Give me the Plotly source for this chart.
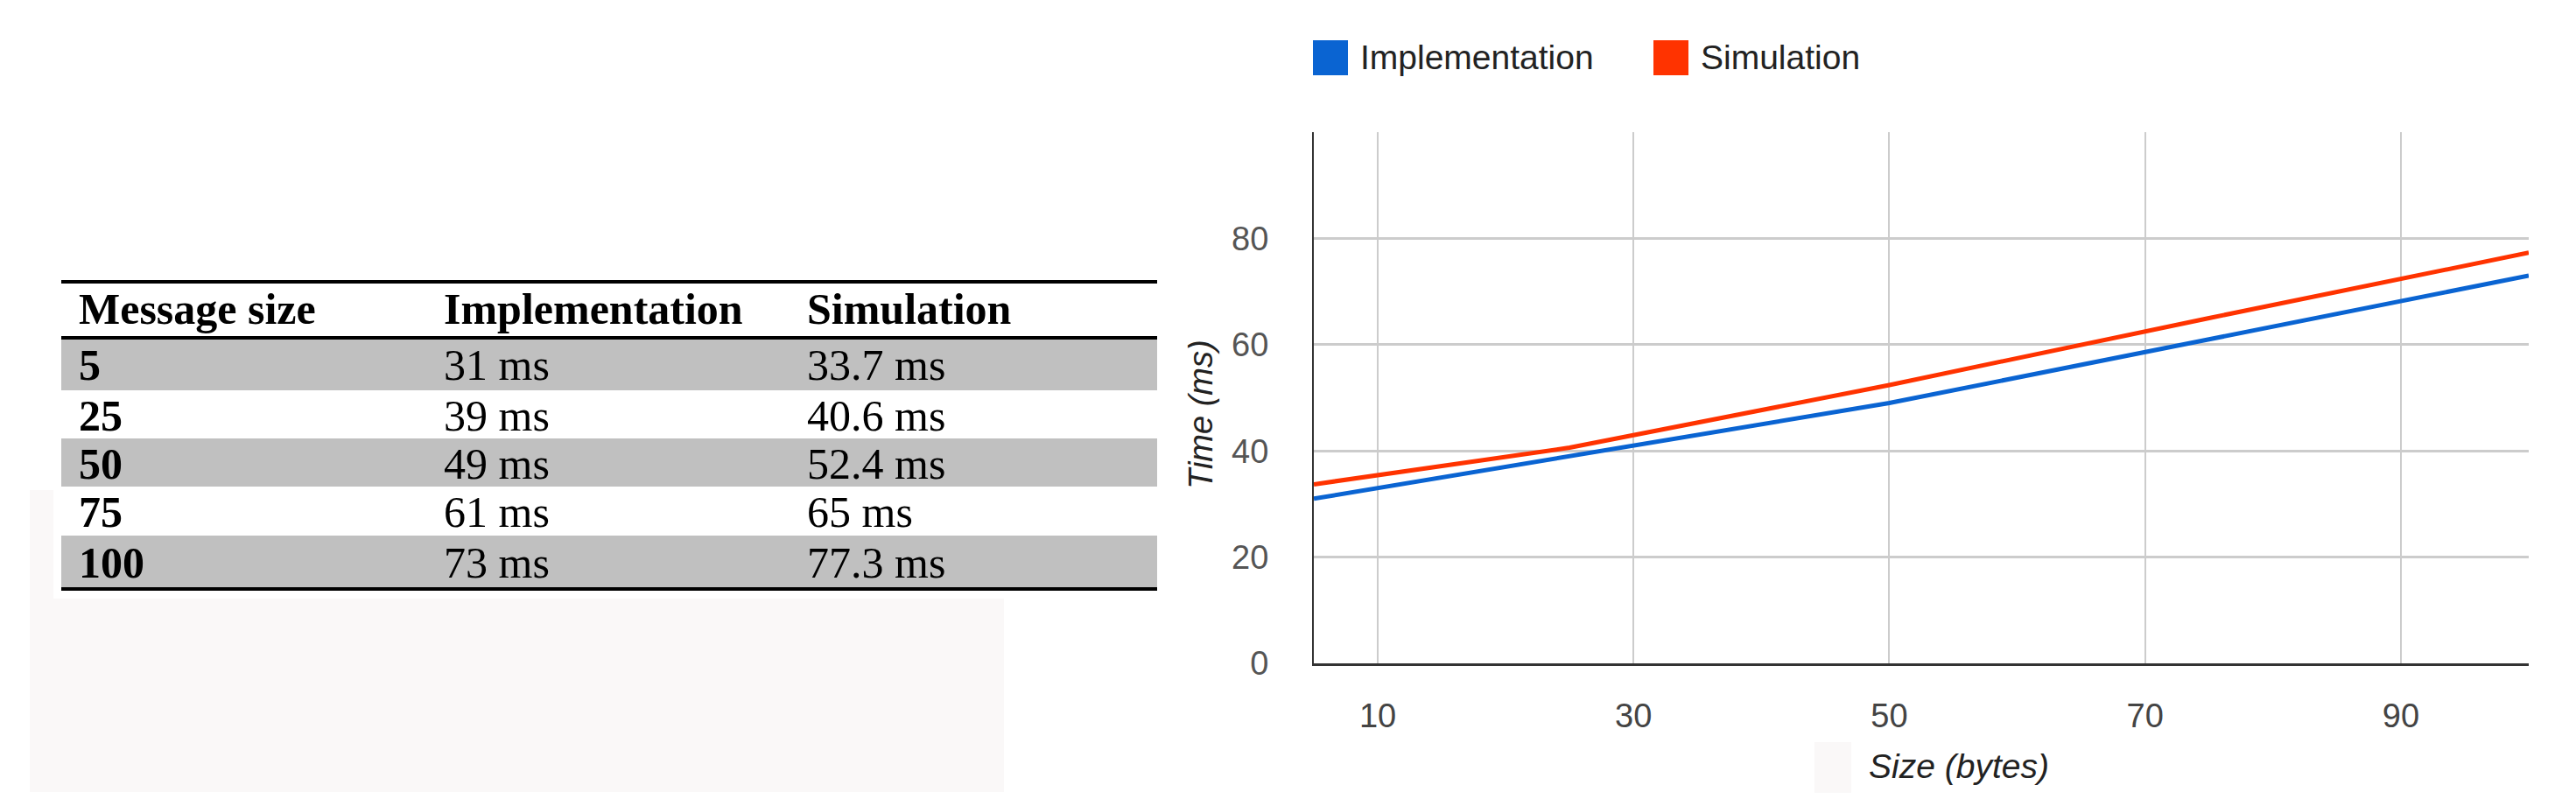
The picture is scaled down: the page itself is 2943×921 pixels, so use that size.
import plotly.graph_objects as go

# ---------------- data ----------------
sizes = [5, 25, 50, 75, 100]
implementation_ms = [31, 39, 49, 61, 73]
simulation_ms = [33.7, 40.6, 52.4, 65, 77.3]
series_names = ["Implementation", "Simulation"]
series_colors = ["#0a64d2", "#ff3300"]
x_ticks = [10, 30, 50, 70, 90]
y_ticks = [0, 20, 40, 60, 80]
table_header = ["Message size", "Implementation", "Simulation"]
impl_labels = ["31 ms", "39 ms", "49 ms", "61 ms", "73 ms"]
sim_labels = ["33.7 ms", "40.6 ms", "52.4 ms", "65 ms", "77.3 ms"]

# ---------------- geometry ----------------
W, H = 2943, 921
L, R, T, B = 1493, 2881, 143, 750
PW, PH = R - L, B - T


def px(x):
    return (x - L) / PW


def py(y):
    return (B - y) / PH


fig = go.Figure()
for name, ys, col in zip(series_names, [implementation_ms, simulation_ms], series_colors):
    fig.add_trace(go.Scatter(x=sizes, y=ys, mode="lines", name=name,
                             line=dict(color=col, width=5), showlegend=False))

shapes = []
annotations = []

# faint background artifacts
faint = "#faf8f8"
shapes.append(dict(type="rect", xref="paper", yref="paper", x0=px(26), x1=px(1139),
                   y0=py(897), y1=py(676), fillcolor=faint, line=dict(width=0), layer="below"))
shapes.append(dict(type="rect", xref="paper", yref="paper", x0=px(26), x1=px(53),
                   y0=py(676), y1=py(552), fillcolor=faint, line=dict(width=0), layer="below"))
shapes.append(dict(type="rect", xref="paper", yref="paper", x0=px(2065), x1=px(2107),
                   y0=py(898), y1=py(840), fillcolor=faint, line=dict(width=0), layer="below"))

# ---------------- table ----------------
tx0, tx1 = 62, 1314
col_x = [80, 497, 912]
row_top = [378, 438, 493, 548, 604]
row_bot = [438, 493, 548, 604, 663]
for i in range(len(sizes)):
    if i % 2 == 0:
        shapes.append(dict(type="rect", xref="paper", yref="paper", x0=px(tx0), x1=px(tx1),
                           y0=py(row_bot[i]), y1=py(row_top[i]), fillcolor="#c0c0c0",
                           line=dict(width=0), layer="below"))
for yy, w in [(314, 4), (378, 4), (665, 4)]:
    shapes.append(dict(type="line", xref="paper", yref="paper", x0=px(tx0), x1=px(tx1),
                       y0=py(yy), y1=py(yy), line=dict(color="#000000", width=w)))

serif = "Liberation Serif, Times New Roman, serif"
TS = 50
for cx, txt in zip(col_x, table_header):
    annotations.append(dict(xref="paper", yref="paper", x=px(cx), y=py(345), text="<b>%s</b>" % txt,
                            showarrow=False, xanchor="left", yanchor="middle",
                            font=dict(family=serif, size=TS, color="#000000")))
for i in range(len(sizes)):
    yc = (row_top[i] + row_bot[i]) / 2 + 1
    cells = ["<b>%s</b>" % sizes[i], impl_labels[i], sim_labels[i]]
    for cx, txt in zip(col_x, cells):
        annotations.append(dict(xref="paper", yref="paper", x=px(cx), y=py(yc), text=txt,
                                showarrow=False, xanchor="left", yanchor="middle",
                                font=dict(family=serif, size=TS, color="#000000")))

# ---------------- legend (manual, square swatches) ----------------
sans = "Liberation Sans, Arial, sans-serif"
leg_x = [1492, 1881]
for lx, name, col in zip(leg_x, series_names, series_colors):
    shapes.append(dict(type="rect", xref="paper", yref="paper", x0=px(lx), x1=px(lx + 40),
                       y0=py(78), y1=py(38), fillcolor=col, line=dict(width=0)))
    annotations.append(dict(xref="paper", yref="paper", x=px(lx + 52), y=py(58), text=name,
                            showarrow=False, xanchor="left", yanchor="middle",
                            font=dict(family=sans, size=39, color="#222222")))

# ---------------- axis titles ----------------
annotations.append(dict(xref="paper", yref="paper", x=px(1364), y=py(466), text="<i>Time (ms)</i>",
                        showarrow=False, xanchor="center", yanchor="middle", textangle=-90,
                        font=dict(family=sans, size=38, color="#222222")))
annotations.append(dict(xref="paper", yref="paper", x=px(2230), y=py(867), text="<i>Size (bytes)</i>",
                        showarrow=False, xanchor="center", yanchor="middle",
                        font=dict(family=sans, size=39, color="#222222")))

fig.update_layout(
    width=W, height=H,
    margin=dict(l=L, r=W - R, t=T, b=H - B, pad=0),
    paper_bgcolor="#ffffff", plot_bgcolor="#ffffff",
    showlegend=False,
    shapes=shapes, annotations=annotations,
    xaxis=dict(range=[5, 100], tickvals=x_ticks, ticktext=[str(v) for v in x_ticks],
               showgrid=True, gridcolor="#cccccc", gridwidth=2, zeroline=False,
               showline=True, linecolor="#333333", linewidth=3, ticks="",
               ticklabelstandoff=24,
               tickfont=dict(family=sans, size=38, color="#444444")),
    yaxis=dict(range=[0, 100], tickvals=y_ticks, ticktext=[str(v) for v in y_ticks],
               showgrid=True, gridcolor="#cccccc", gridwidth=3, zeroline=False,
               showline=True, linecolor="#333333", linewidth=2, ticks="",
               ticklabelstandoff=42,
               tickfont=dict(family=sans, size=38, color="#555555")),
)

fig.write_html("out.html")
